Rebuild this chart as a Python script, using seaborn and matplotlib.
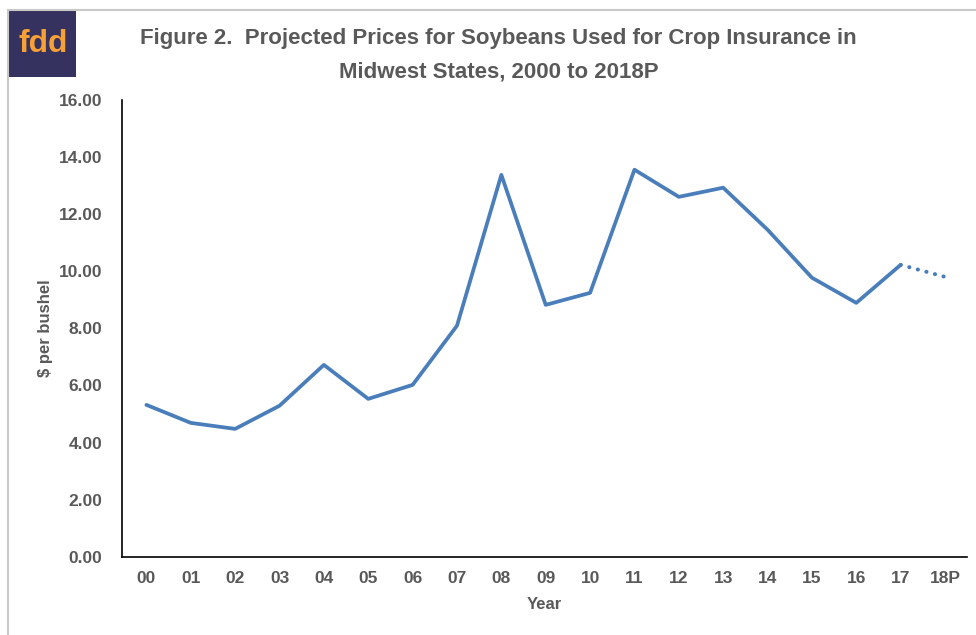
import seaborn as sns
import matplotlib.pyplot as plt
import pandas as pd
from matplotlib.patches import Rectangle
from matplotlib.lines import Line2D

years = ["00", "01", "02", "03", "04", "05", "06", "07", "08", "09",
         "10", "11", "12", "13", "14", "15", "16", "17", "18P"]
prices = [5.32, 4.69, 4.48, 5.29, 6.72, 5.53, 6.02, 8.09, 13.37, 8.82,
          9.24, 13.55, 12.60, 12.92, 11.45, 9.77, 8.89, 10.22, 9.80]

df = pd.DataFrame({"pos": range(len(years)), "year": years, "price": prices})
actual = df.iloc[:-1]
projected = df.iloc[-2:]

sns.set_style("white")
plt.rcParams['font.family'] = ['Arial', 'Liberation Sans', 'DejaVu Sans']

blue = "#4A7EBB"
grey = "#595959"

fig = plt.figure(figsize=(9.76, 6.35), dpi=100)
ax = fig.add_axes([0.125, 0.123, 0.866, 0.72])

sns.lineplot(data=actual, x="pos", y="price", ax=ax, color=blue, linewidth=2.7)
sns.lineplot(data=projected, x="pos", y="price", ax=ax, color=blue,
             linewidth=2.9, linestyle=(0, (0.05, 2.15)), dash_capstyle="round")

ax.set_xlim(-0.55, 18.5)
ax.set_ylim(0, 16)
ax.set_yticks(range(0, 17, 2))
ax.set_yticklabels([f"{v:.2f}" for v in range(0, 17, 2)])
ax.set_xticks(df["pos"])
ax.set_xticklabels(years)
for lab in ax.get_xticklabels() + ax.get_yticklabels():
    lab.set_fontweight("bold")
    lab.set_color(grey)
    lab.set_fontsize(12.5)
ax.tick_params(axis="both", length=0, pad=10)
ax.tick_params(axis="y", pad=14)

ax.set_xlabel("Year", fontsize=12, fontweight="bold", color=grey, labelpad=8)
ax.set_ylabel("$ per bushel", fontsize=12, fontweight="bold", color=grey, labelpad=4)

sns.despine(ax=ax, top=True, right=True)
ax.spines["left"].set_color("black")
ax.spines["bottom"].set_color("black")
ax.spines["left"].set_linewidth(1.2)
ax.spines["bottom"].set_linewidth(1.2)

fig.text(0.511, 0.939, "Figure 2.  Projected Prices for Soybeans Used for Crop Insurance in",
         ha="center", va="center", fontsize=16, fontweight="bold", color=grey)
fig.text(0.511, 0.887, "Midwest States, 2000 to 2018P",
         ha="center", va="center", fontsize=16, fontweight="bold", color=grey)

# logo and border
fig.add_artist(Line2D([8 / 976, 1], [1 - 10 / 635, 1 - 10 / 635], color="#C8C8C8", lw=1.5))
fig.add_artist(Line2D([8 / 976, 8 / 976], [0, 1 - 10 / 635], color="#C8C8C8", lw=1.5))
fig.add_artist(Rectangle((8 / 976, 1 - 77 / 635), 68 / 976, 67 / 635,
                         transform=fig.transFigure, facecolor="#36325F", edgecolor="none"))
fig.text(43 / 976, 1 - 44 / 635, "fdd", ha="center", va="center", fontsize=23,
         fontweight="bold", color="#F7A035")

fig.savefig("out.png", dpi=100)
